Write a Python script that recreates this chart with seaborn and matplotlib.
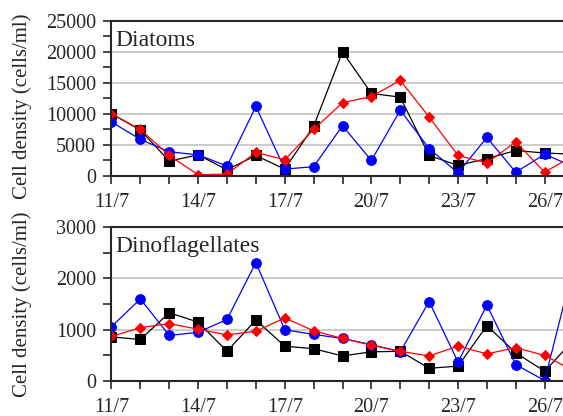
import matplotlib
matplotlib.use("Agg")
import matplotlib.pyplot as plt
import seaborn as sns
import numpy as np
from matplotlib.ticker import MultipleLocator, FixedLocator

# sampling days in July
days = list(range(11, 28))

# Diatoms (cells/ml)
diat_black = [10000, 7400, 2400, 3400, 1000, 3300, 1100, 8000, 20000,
              13300, 12700, 3300, 1700, 2800, 4100, 3700, 3500]
diat_red = [10000, 7500, 3300, 200, 300, 3800, 2600, 7500, 11800,
            12800, 15400, 9500, 3300, 2100, 5500, 600, 3300]
diat_blue = [8700, 5900, 3900, 3400, 1600, 11200, 1100, 1500, 8100,
             2500, 10600, 4400, 500, 6200, 600, 3500, 1500]

# Dinoflagellates (cells/ml)
dino_black = [860, 810, 1330, 1150, 580, 1190, 680, 630, 490,
              570, 580, 250, 290, 1080, 550, 190, 800]
dino_red = [870, 1040, 1120, 1010, 900, 970, 1230, 980, 830,
            700, 580, 490, 680, 530, 650, 500, 200]
dino_blue = [1060, 1600, 890, 950, 1200, 2310, 1000, 910, 830,
             710, 570, 1550, 370, 1480, 320, 10, 2250]

tick_days = [11, 14, 17, 20, 23, 26]
tick_labels = [f"{d}/7" for d in tick_days]

sns.set_style("ticks")
plt.rcParams['font.family'] = ['Liberation Serif', 'DejaVu Serif']

fig = plt.figure(figsize=(5.63, 4.16), dpi=100)
ax1 = fig.add_axes([0.198, 0.577, 0.872, 0.373])
ax2 = fig.add_axes([0.198, 0.084, 0.872, 0.370])

panels = [
    (ax1, diat_black, diat_red, diat_blue, "Diatoms", 25000, 5000, 2500, 0.45),
    (ax2, dino_black, dino_red, dino_blue, "Dinoflagellates", 3000, 1000, 500, 0.5),
]

for ax, blk, red, blu, name, ymax, major, minor, ylab_y in panels:
    for y in np.arange(major, ymax, major):
        ax.axhline(y, color='#c8c8c8', lw=1.3, zorder=0)
    sns.lineplot(x=days, y=blk, ax=ax, color='black', lw=0.9,
                 marker='s', markersize=6.5, markeredgecolor='black')
    sns.lineplot(x=days, y=blu, ax=ax, color='blue', lw=0.9,
                 marker='o', markersize=7, markeredgecolor='blue')
    sns.lineplot(x=days, y=red, ax=ax, color='red', lw=0.9,
                 marker='D', markersize=5, markeredgecolor='red')
    ax.set_xlim(11, 28)
    ax.set_ylim(0, ymax)
    ax.xaxis.set_major_locator(FixedLocator(tick_days))
    ax.xaxis.set_minor_locator(MultipleLocator(1))
    ax.set_xticklabels(tick_labels)
    ax.yaxis.set_major_locator(MultipleLocator(major))
    ax.yaxis.set_minor_locator(MultipleLocator(minor))
    ax.tick_params(axis='x', which='both', direction='out', length=6,
                   width=1.2, labelsize=14.5, pad=6)
    ax.tick_params(axis='y', which='both', direction='out', length=6,
                   width=1.2, labelsize=14.5, pad=5)
    ax.set_ylabel("Cell density (cells/ml)", fontsize=15)
    ax.yaxis.set_label_coords(-0.162, ylab_y)
    ax.set_xlabel("")
    ax.text(0.008, 0.94, name, transform=ax.transAxes, fontsize=17,
            va='top', ha='left')
    for s in ['left', 'bottom', 'top']:
        ax.spines[s].set_linewidth(1.5)
    ax.spines['right'].set_visible(False)

fig.savefig("out.png", dpi=100)
